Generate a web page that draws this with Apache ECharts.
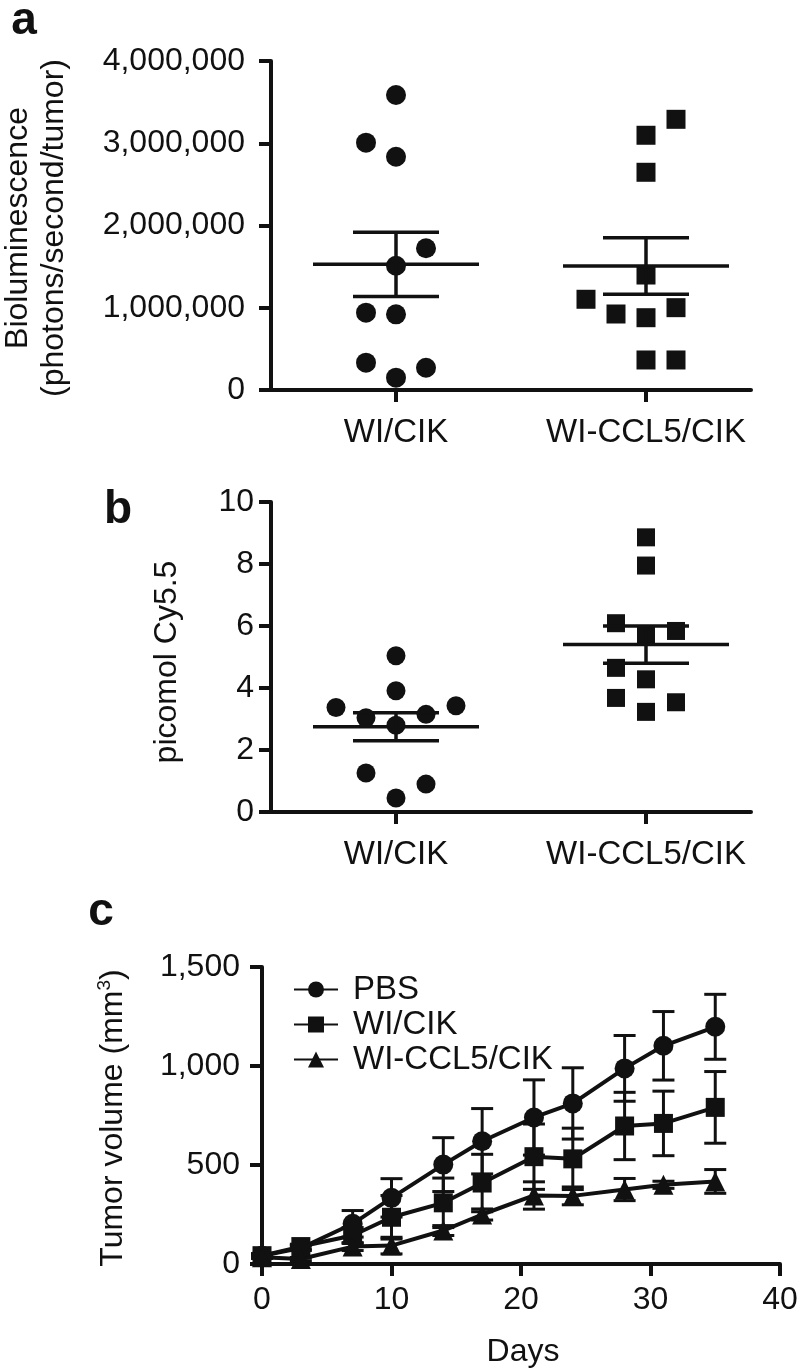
<!DOCTYPE html>
<html><head><meta charset="utf-8">
<script src="https://cdn.jsdelivr.net/npm/echarts@6/dist/echarts.min.js"></script>
<style>html,body{margin:0;padding:0;background:#fff}#c{width:802px;height:1372px}</style>
</head><body><div id="c"></div>
<script>
// ---------- data ----------
const groups = ['WI/CIK', 'WI-CCL5/CIK'];

// panel a : bioluminescence
const aWiValues  = [3587000, 3007000, 2836000, 1723000, 1511000, 940000, 920000, 332000, 271000, 150000];
const aWiSlot    = [0, -1, 0, 1, 0, -1, 0, -1, 1, 0];
const aCclValues = [3291000, 3097000, 2647000, 1398000, 1103000, 1001000, 924000, 879000, 365000, 365000];
const aCclSlot   = [1, 0, 0, 0, -2, 1, -1, 0, 0, 1];
const aMean = [1528000, 1508000];
const aSem  = [391000, 344000];
const aTicks = [0, 1000000, 2000000, 3000000, 4000000];

// panel b : picomol Cy5.5
const bWiValues  = [5.04, 3.91, 3.37, 3.43, 3.04, 3.15, 2.80, 1.26, 0.90, 0.45];
const bWiSlot    = [0, 0, -2, 2, -1, 1, 0, -1, 1, 0];
const bCclValues = [8.86, 7.95, 6.09, 5.84, 5.69, 4.65, 4.28, 3.68, 3.54, 3.23];
const bCclSlot   = [0, 0, -1, 1, 0, -1, 0, -1, 1, 0];
const bMean = [2.75, 5.40];
const bSem  = [0.455, 0.60];

// panel c : tumor volume
const days      = [0, 3, 7, 10, 14, 17, 21, 24, 28, 31, 35];
const pbsMean   = [42, 80, 203, 334, 502, 620, 740, 811, 988, 1102, 1198];
const pbsSem    = [10, 12, 67, 97, 136, 165, 190, 180, 166, 173, 164];
const wiMean    = [42, 88, 144, 236, 309, 409, 542, 531, 697, 710, 791];
const wiSem     = [10, 12, 40, 110, 125, 145, 165, 155, 170, 163, 181];
const cclMean   = [34, 25, 88, 93, 169, 250, 346, 344, 376, 400, 417];
const cclSem    = [6, 8, 20, 42, 25, 28, 69, 45, 56, 18, 60];
const cSeriesNames = ['PBS', 'WI/CIK', 'WI-CCL5/CIK'];

// ---------- styles ----------
const INK = '#111';
const FONT = "'Liberation Sans', Arial, Helvetica, sans-serif";
const JITTER_PX = 30;

function scatter(xi, yi, values, slots, cat, symbol, size) {
  return {
    type: 'scatter', xAxisIndex: xi, yAxisIndex: yi, symbol: symbol, symbolSize: size,
    itemStyle: {color: INK, opacity: 1}, z: 3, silent: true,
    data: values.map((v, i) => ({value: [cat, v], symbolOffset: [slots[i] * JITTER_PX, 0]}))
  };
}
function meanSem(xi, yi, means, sems) {
  return {
    type: 'custom', xAxisIndex: xi, yAxisIndex: yi, z: 6, silent: true,
    data: means.map((m, i) => [i + 1, m, sems[i]]),
    renderItem(params, api) {
      const x = api.value(0), m = api.value(1), s = api.value(2);
      const c = api.coord([x, m]), hi = api.coord([x, m + s]), lo = api.coord([x, m - s]);
      const st = {stroke: INK, lineWidth: 3.5};
      return {type: 'group', children: [
        {type: 'line', shape: {x1: c[0] - 83, y1: c[1], x2: c[0] + 83, y2: c[1]}, style: st},
        {type: 'line', shape: {x1: c[0], y1: hi[1], x2: c[0], y2: lo[1]}, style: st},
        {type: 'line', shape: {x1: c[0] - 43, y1: hi[1], x2: c[0] + 43, y2: hi[1]}, style: st},
        {type: 'line', shape: {x1: c[0] - 43, y1: lo[1], x2: c[0] + 43, y2: lo[1]}, style: st}
      ]};
    }
  };
}
function errBars(mean, sem) {
  return {
    type: 'custom', xAxisIndex: 2, yAxisIndex: 2, z: 2, silent: true,
    data: days.map((d, i) => [d, mean[i], sem[i]]),
    renderItem(params, api) {
      const x = api.value(0), m = api.value(1), s = api.value(2);
      const hi = api.coord([x, m + s]), lo = api.coord([x, m - s]);
      const st = {stroke: INK, lineWidth: 3};
      return {type: 'group', children: [
        {type: 'line', shape: {x1: hi[0], y1: hi[1], x2: lo[0], y2: lo[1]}, style: st},
        {type: 'line', shape: {x1: hi[0] - 11, y1: hi[1], x2: hi[0] + 11, y2: hi[1]}, style: st},
        {type: 'line', shape: {x1: lo[0] - 11, y1: lo[1], x2: lo[0] + 11, y2: lo[1]}, style: st}
      ]};
    }
  };
}
function lineSeries(name, mean, symbol, size) {
  return {
    type: 'line', name: name, xAxisIndex: 2, yAxisIndex: 2, z: 4, silent: true,
    symbol: symbol, symbolSize: size, showAllSymbol: true,
    lineStyle: {color: INK, width: 4}, itemStyle: {color: INK, opacity: 1},
    data: days.map((d, i) => [d, mean[i]])
  };
}
const axisLine = {show: true, onZero: false, lineStyle: {color: INK, width: 4}};
const axisTick = {show: true, length: 12, lineStyle: {color: INK, width: 4}};
const fmt = v => Number(v).toLocaleString('en-US');

function catXAxis(gi) {
  return {
    gridIndex: gi, type: 'value', min: 0.5, max: 2.42,
    axisLine: axisLine,
    axisTick: Object.assign({customValues: [1, 2]}, axisTick),
    axisLabel: {customValues: [1, 2], formatter: v => groups[Math.round(v) - 1],
      fontSize: 33, fontFamily: FONT, color: INK, margin: 26},
    splitLine: {show: false}
  };
}

const option = {
  backgroundColor: '#fff',
  animation: false,
  textStyle: {fontFamily: FONT, color: INK},
  grid: [
    {left: 271, top: 61, width: 480, height: 329},
    {left: 271, top: 502, width: 480, height: 310},
    {left: 262, top: 967, width: 518, height: 297}
  ],
  xAxis: [
    catXAxis(0),
    catXAxis(1),
    {gridIndex: 2, type: 'value', min: 0, max: 40, interval: 10,
      axisLine: axisLine, axisTick: axisTick,
      axisLabel: {fontSize: 32, fontFamily: FONT, color: INK, margin: 20},
      splitLine: {show: false}}
  ],
  yAxis: [
    {gridIndex: 0, type: 'value', min: aTicks[0], max: aTicks[aTicks.length - 1], interval: aTicks[1] - aTicks[0],
      axisLine: axisLine, axisTick: axisTick,
      axisLabel: {formatter: fmt, fontSize: 32, fontFamily: FONT, color: INK, margin: 26},
      splitLine: {show: false}},
    {gridIndex: 1, type: 'value', min: 0, max: 10, interval: 2,
      axisLine: axisLine, axisTick: axisTick,
      axisLabel: {fontSize: 32, fontFamily: FONT, color: INK, margin: 17},
      splitLine: {show: false}},
    {gridIndex: 2, type: 'value', min: 0, max: 1500, interval: 500,
      axisLine: axisLine, axisTick: axisTick,
      axisLabel: {formatter: fmt, fontSize: 32, fontFamily: FONT, color: INK, margin: 22},
      splitLine: {show: false}}
  ],
  legend: {
    data: cSeriesNames, orient: 'vertical', left: 288, top: 968,
    itemWidth: 44, itemHeight: 20, itemGap: 2, selectedMode: false,
    textStyle: {fontSize: 33, fontFamily: FONT, color: INK, lineHeight: 33, padding: [0, 0, 0, 10]}
  },
  series: [
    scatter(0, 0, aWiValues, aWiSlot, 1, 'circle', 20),
    scatter(0, 0, aCclValues, aCclSlot, 2, 'rect', 19),
    meanSem(0, 0, aMean, aSem),
    scatter(1, 1, bWiValues, bWiSlot, 1, 'circle', 19),
    scatter(1, 1, bCclValues, bCclSlot, 2, 'rect', 18),
    meanSem(1, 1, bMean, bSem),
    errBars(pbsMean, pbsSem),
    errBars(wiMean, wiSem),
    errBars(cclMean, cclSem),
    lineSeries(cSeriesNames[0], pbsMean, 'circle', 20),
    lineSeries(cSeriesNames[1], wiMean, 'rect', 19),
    lineSeries(cSeriesNames[2], cclMean, 'triangle', 20)
  ],
  graphic: [
    {type: 'text', x: 24, y: 21, style: {text: 'a', fontSize: 46, fontWeight: 'bold', fontFamily: FONT, fill: INK, align: 'center', verticalAlign: 'middle'}},
    {type: 'text', x: 118, y: 510, style: {text: 'b', fontSize: 46, fontWeight: 'bold', fontFamily: FONT, fill: INK, align: 'center', verticalAlign: 'middle'}},
    {type: 'text', x: 101, y: 912, style: {text: 'c', fontSize: 46, fontWeight: 'bold', fontFamily: FONT, fill: INK, align: 'center', verticalAlign: 'middle'}},
    {type: 'text', x: 36, y: 228, rotation: Math.PI / 2,
      style: {text: 'Bioluminescence\n(photons/second/tumor)', fontSize: 32, lineHeight: 36, fontFamily: FONT, fill: INK, align: 'center', verticalAlign: 'middle'}},
    {type: 'text', x: 167, y: 662, rotation: Math.PI / 2,
      style: {text: 'picomol Cy5.5', fontSize: 32, fontFamily: FONT, fill: INK, align: 'center', verticalAlign: 'middle'}},
    {type: 'text', x: 113, y: 1118, rotation: Math.PI / 2,
      style: {text: 'Tumor volume (mm{sup|3})', fontSize: 32, fontFamily: FONT, fill: INK, align: 'center', verticalAlign: 'middle',
        rich: {sup: {fontSize: 19, fontFamily: FONT, fill: INK, padding: [0, 0, 16, 0]}}}},
    {type: 'text', x: 523, y: 1352, style: {text: 'Days', fontSize: 32, fontFamily: FONT, fill: INK, align: 'center', verticalAlign: 'middle'}}
  ]
};
const chart = echarts.init(document.getElementById('c'), null, {renderer: 'canvas'});
chart.setOption(option);
</script>
</body></html>
